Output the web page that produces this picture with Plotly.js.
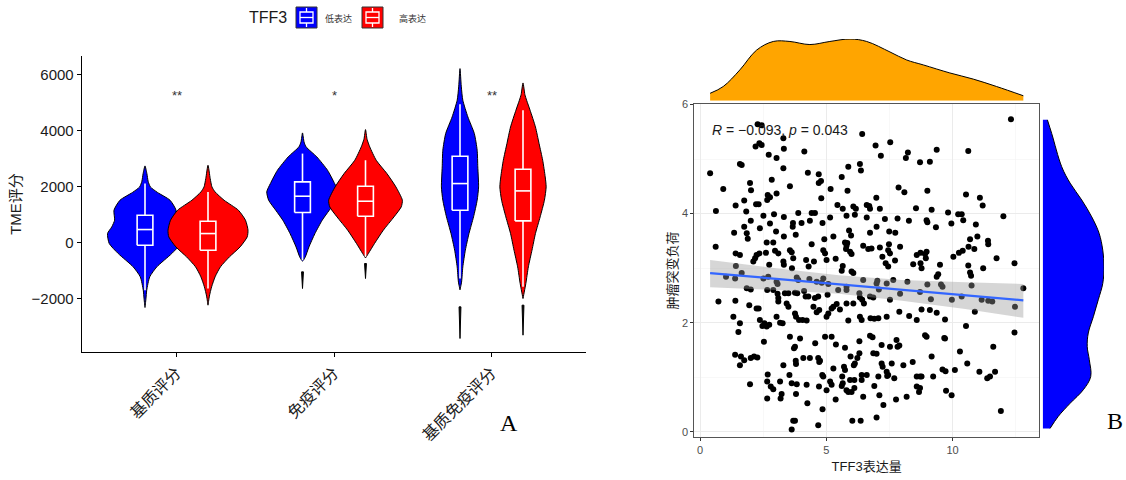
<!DOCTYPE html>
<html>
<head>
<meta charset="utf-8">
<script src="https://cdn.plot.ly/plotly-3.0.1.min.js"></script>
<style>html,body{margin:0;padding:0;background:#fff;}#chart{width:1126px;height:480px;}</style>
</head>
<body>
<div id="chart"></div>
<script>
// ---------------- Panel A data ----------------
const categories = ['基质评分', '免疫评分', '基质免疫评分'];
const groupNames = ['低表达', '高表达'];
const legendTitle = 'TFF3';
const sigLabels = ['**', '*', '**'];
const sigY = 5250;

// box statistics (TME score) per category
const lowQ1 = [-83, 1083, 1167];
const lowMedian = [476, 1667, 2119];
const lowQ3 = [988, 2179, 3095];
const lowLowerFence = [-1690, -619, -1274];
const lowUpperFence = [2119, 3190, 4952];
const highQ1 = [-262, 952, 786];
const highMedian = [333, 1488, 1857];
const highQ3 = [774, 2024, 2631];
const highLowerFence = [-1631, -500, -1571];
const highUpperFence = [1821, 2952, 4738];

// violin density profiles (score level, half-width in category units)
const lowViolinLevels = [
  [2750, 2476, 2200, 2000, 1800, 1524, 1167, 810, 571, 333, -24, -381, -857, -1214, -1690, -2000, -2310],
  [3929, 3600, 3429, 3071, 2595, 2119, 1821, 1524, 1167, 810, 333, -143, -500, -619, -650],
  [6226, 5600, 5095, 4500, 3905, 3310, 2714, 2000, 1524, 929, 333, -262, -857, -1400, -1680]
];
const lowViolinDensity = [
  [0, 0.012, 0.020, 0.034, 0.080, 0.159, 0.197, 0.193, 0.211, 0.238, 0.227, 0.170, 0.075, 0.030, 0.011, 0.006, 0],
  [0, 0.010, 0.023, 0.091, 0.159, 0.204, 0.227, 0.215, 0.170, 0.125, 0.079, 0.041, 0.018, 0.006, 0],
  [0, 0.008, 0.018, 0.050, 0.091, 0.109, 0.113, 0.118, 0.109, 0.086, 0.057, 0.034, 0.018, 0.010, 0]
];
const highViolinLevels = [
  [2774, 2300, 2000, 1821, 1524, 1167, 810, 452, 214, -143, -500, -857, -1214, -1571, -1900, -2226],
  [4048, 3700, 3429, 2952, 2476, 2000, 1524, 1286, 929, 452, -24, -381, -540],
  [5714, 5300, 5095, 4738, 4143, 3548, 2952, 2357, 2000, 1524, 929, 333, -262, -857, -1452, -1988]
];
const highViolinDensity = [
  [0, 0.014, 0.025, 0.045, 0.102, 0.193, 0.238, 0.254, 0.249, 0.204, 0.136, 0.079, 0.045, 0.023, 0.009, 0],
  [0, 0.010, 0.027, 0.068, 0.136, 0.193, 0.234, 0.227, 0.181, 0.113, 0.057, 0.018, 0],
  [0, 0.012, 0.023, 0.045, 0.079, 0.102, 0.125, 0.141, 0.147, 0.136, 0.109, 0.079, 0.057, 0.034, 0.018, 0]
];
// detached thin lower tails of the violins
const lowTailTop = [null, -1036, -2286];
const lowTailBottom = [null, -1631, -3417];
const highTailTop = [null, -738, -2226];
const highTailBottom = [null, -1274, -3298];

// ---------------- Panel B data ----------------
const tff3 = [12.31,2.28,2.44,6.42,7.53,2.35,2.44,2.20,3.30,3.32,2.72,3.03,4.13,6.95,7.16,8.23,8.15,9.37,10.62,8.71,9.10,1.58,1.65,6.33,6.37,5.87,0.40,3.30,5.61,4.27,4.70,4.70,4.79,2.84,1.98,2.02,0.92,3.56,3.03,5.17,5.84,7.86,8.09,9.00,10.53,11.08,11.19,1.75,2.68,2.77,2.66,6.98,4.80,0.63,1.41,2.22,2.32,1.83,6.60,6.70,6.73,5.44,6.07,6.17,5.65,7.12,8.55,9.17,9.82,10.22,10.36,12.01,3.89,4.42,4.55,2.93,5.15,5.80,6.13,6.60,7.32,7.82,8.27,8.97,9.00,9.95,10.42,10.92,2.51,3.32,3.68,3.67,4.02,4.35,4.85,2.01,2.77,1.75,1.35,1.85,2.37,5.90,5.98,5.83,6.73,6.99,7.49,7.73,9.34,5.28,3.79,3.01,3.32,4.92,2.64,2.90,1.89,10.69,10.98,11.40,11.41,0.62,1.41,1.58,2.24,2.35,2.61,2.97,3.10,3.56,3.63,4.42,4.88,4.95,5.74,5.80,5.78,5.94,6.00,6.46,6.66,6.79,7.12,7.48,7.45,7.52,7.92,8.73,8.91,8.58,8.97,10.25,10.40,10.63,10.86,11.74,12.45,10.03,1.42,3.30,3.32,3.69,3.64,4.20,4.30,4.51,5.01,5.37,5.65,5.61,6.00,6.07,7.22,7.35,7.45,7.72,8.44,8.73,8.77,8.94,9.50,10.62,10.69,10.73,11.21,2.18,2.11,2.74,1.03,1.65,1.39,2.70,2.51,3.03,3.07,3.83,3.89,4.33,4.62,4.88,4.82,5.08,5.80,6.46,7.02,6.99,7.65,8.21,9.00,9.14,9.54,9.60,9.37,9.43,9.97,10.75,11.15,11.41,11.57,12.47,12.80,0.73,1.40,1.85,2.01,2.66,2.90,3.07,3.10,3.10,3.36,3.50,3.76,3.85,4.12,4.29,4.18,4.55,4.68,5.05,5.47,5.80,6.31,6.33,6.42,6.49,6.73,6.86,7.08,7.39,7.92,8.71,10.36,1.32,1.58,1.52,1.95,2.24,2.32,2.37,2.47,2.55,2.64,2.74,3.03,3.17,3.27,3.43,3.50,3.76,3.80,3.92,4.06,4.22,4.49,4.62,4.72,5.01,5.08,5.21,5.28,5.41,5.54,5.80,5.87,6.07,6.33,6.40,6.75,6.90,7.06,7.39,7.52,7.89,8.28,8.58,8.77,9.10,9.37,9.70,10.53,10.88,1.39,1.62,1.75,1.58,2.01,2.14,2.27,1.98,2.53,2.68,2.66,2.80,2.90,2.66,3.17,3.23,3.19,3.30,3.56,3.54,3.63,3.79,3.80,3.83,3.80,3.96,3.76,3.72,4.09,4.35,4.22,4.25,4.56,4.68,4.72,4.75,4.71,4.85,4.95,4.84,4.88,5.01,5.15,5.21,5.21,5.28,5.38,5.37,5.63,5.65,5.61,5.70,5.74,5.74,5.80,5.87,5.94,5.96,6.00,6.09,6.13,6.11,6.11,6.23,6.31,6.31,6.40,6.40,6.46,6.60,6.73,6.83,6.86,6.90,6.99,7.06,7.10,7.19,7.19,7.23,7.26,7.39,7.41,7.45,7.52,7.59,7.69,7.78,7.82,7.89,7.76,8.05,8.18,8.42,8.58,8.71,8.77,8.58,8.71,8.67,8.91,8.97,9.17,9.23,9.67,9.70,9.60,9.72,9.74,9.96,10.09,10.29,10.58,11.06,11.37,11.48,11.68,11.61,12.45,11.91,3.63,3.69,3.76,4.68,6.03,6.36,6.99];
const tmb = [5.73,5.64,5.62,5.46,5.31,5.29,5.26,5.23,5.38,5.19,5.08,5.02,5.14,5.25,5.06,5.12,5.02,5.17,5.15,4.94,4.95,4.91,4.89,4.91,4.79,4.86,4.74,4.83,4.67,4.75,4.72,4.56,4.60,4.62,4.56,4.43,4.45,4.50,4.37,4.45,4.42,4.48,4.39,4.42,4.35,4.29,4.15,4.24,4.34,4.30,4.25,4.29,4.28,4.05,4.15,4.17,4.17,4.04,4.16,4.14,4.09,4.16,4.13,4.09,4.09,4.09,4.10,4.07,4.02,3.99,3.99,3.95,4.01,4.01,4.01,3.99,3.93,3.96,3.98,3.93,3.90,3.91,3.87,3.88,3.84,3.82,3.88,3.80,3.96,3.94,3.83,3.76,3.83,3.87,3.83,3.87,3.82,3.76,3.65,3.64,3.73,3.69,3.60,3.46,3.65,3.76,3.67,3.65,3.75,3.58,3.61,3.67,3.58,3.53,3.47,3.47,3.54,3.53,3.58,3.50,3.44,3.39,3.27,3.24,3.24,3.27,3.28,3.32,3.27,3.33,3.29,3.44,3.33,3.27,3.47,3.41,3.35,3.30,3.26,3.41,3.35,3.36,3.38,3.44,3.33,3.27,3.39,3.28,3.26,3.24,3.30,3.28,3.32,3.39,3.35,3.18,3.09,3.21,3.04,3.12,3.06,3.18,3.00,3.15,3.03,3.12,3.15,3.17,3.04,2.95,2.94,2.91,3.21,3.09,3.03,3.14,3.07,3.09,3.00,3.18,3.06,3.05,2.92,2.86,3.00,3.18,3.12,3.06,2.84,2.91,2.81,2.84,2.81,2.75,2.71,2.83,2.78,2.80,2.75,2.81,2.73,2.71,2.66,2.78,2.77,2.72,2.78,2.75,2.70,2.43,2.70,2.66,2.84,2.89,2.42,2.68,2.42,2.40,2.39,2.29,2.63,2.39,2.40,2.63,2.61,2.60,2.60,2.53,2.45,2.39,2.54,2.54,2.55,2.54,2.58,2.48,2.48,2.45,2.48,2.51,2.60,2.60,2.54,2.46,2.42,2.35,2.48,2.46,2.61,2.72,2.53,2.56,2.48,2.11,1.99,1.83,2.32,2.26,2.26,2.05,1.94,1.99,1.93,1.96,2.11,2.00,1.99,2.35,2.29,2.17,2.11,2.05,2.05,2.04,2.29,2.19,2.23,2.11,2.17,2.26,2.29,2.34,2.24,2.35,2.04,2.35,2.11,2.05,2.08,2.07,2.08,2.11,2.42,2.20,2.12,2.05,2.24,2.23,2.18,2.06,1.94,2.20,1.41,1.38,1.31,1.22,1.35,1.38,1.36,0.87,1.65,1.05,0.92,0.83,0.78,0.61,0.92,0.69,0.61,1.22,1.74,1.04,0.89,1.30,1.24,0.87,0.69,1.71,1.56,1.53,1.35,1.35,0.86,0.52,1.62,1.35,1.28,1.30,0.83,0.41,1.74,1.04,1.01,0.76,0.92,0.86,1.74,1.16,1.60,0.59,1.01,0.89,0.84,1.19,1.13,1.54,0.76,0.73,0.95,1.38,0.73,1.22,1.25,0.95,0.80,1.35,1.44,1.66,1.04,0.95,0.64,1.04,1.76,1.73,1.44,0.84,1.43,1.01,0.67,1.59,1.25,1.19,0.49,1.10,1.02,1.04,1.56,1.25,0.98,1.68,1.56,1.58,0.59,1.22,0.64,1.28,1.01,1.01,1.01,0.83,0.80,0.73,1.77,1.74,1.38,1.01,1.72,1.71,1.14,1.11,0.75,0.67,1.13,1.47,1.25,1.10,0.98,1.01,1.10,1.56,1.82,0.38,0.04,0.20,0.20,0.12,0.20,0.20,0.26];
const corrText = '<i>R</i> = −0.093, <i>p</i> = 0.043';

// linear fit and its confidence band
const fitX = [0.4, 12.8];
const fitY = [2.91, 2.41];
const bandX = [0.4, 3, 5.5, 8, 10.5, 12.8];
const bandUpper = [3.15, 3.00, 2.87, 2.78, 2.74, 2.71];
const bandLower = [2.65, 2.60, 2.53, 2.40, 2.25, 2.09];

// marginal densities
const topDensX = [0.40, 0.92, 1.58, 2.24, 2.90, 3.56, 4.35, 5.14, 5.94, 6.60, 7.52, 8.18, 8.84, 9.89, 10.82, 11.74, 12.80];
const topDens = [0.012, 0.023, 0.050, 0.082, 0.096, 0.096, 0.091, 0.096, 0.100, 0.096, 0.079, 0.066, 0.058, 0.045, 0.035, 0.023, 0.008];
const rightDensY = [5.72, 5.47, 4.86, 4.56, 4.25, 3.94, 3.64, 3.33, 3.03, 2.72, 2.42, 2.11, 1.81, 1.56, 1.32, 1.01, 0.77, 0.52, 0.28, 0.06];
const rightDens = [0.023, 0.044, 0.093, 0.134, 0.191, 0.240, 0.276, 0.294, 0.300, 0.294, 0.272, 0.248, 0.223, 0.218, 0.228, 0.235, 0.199, 0.134, 0.076, 0.036];

// ---------------- build ----------------
const W = 1126, H = 480;
const px = x => x / W;
const py = y => 1 - y / H;
const FONT = 'Liberation Sans, Arial, Noto Sans CJK SC, sans-serif';
const BLUE = '#0000FF', RED = '#FF0000';
const DODGE = 0.2;
const BOXHALF = 0.05;

const traces = [];

function violin(center, lv, hw, color) {
  const xs = [], ys = [];
  for (let i = 0; i < lv.length; i++) { xs.push(center + hw[i]); ys.push(lv[i]); }
  for (let i = lv.length - 1; i >= 0; i--) { xs.push(center - hw[i]); ys.push(lv[i]); }
  return {type: 'scatter', mode: 'lines', x: xs, y: ys, xaxis: 'x', yaxis: 'y',
    fill: 'toself', fillcolor: color, line: {color: '#000', width: 1, shape: 'spline', smoothing: 0.6},
    hoverinfo: 'skip', showlegend: false};
}
function tail(center, top, bottom) {
  return {type: 'scatter', mode: 'lines', x: [center + 0.006, center, center - 0.006, center + 0.006],
    y: [top, bottom, top, top], xaxis: 'x', yaxis: 'y', fill: 'toself', fillcolor: '#000',
    line: {color: '#000', width: 1}, hoverinfo: 'skip', showlegend: false};
}
for (let c = 0; c < categories.length; c++) {
  const cx = c + 1;
  traces.push(violin(cx - DODGE, lowViolinLevels[c], lowViolinDensity[c], BLUE));
  if (lowTailTop[c] !== null) traces.push(tail(cx - DODGE, lowTailTop[c], lowTailBottom[c]));
  traces.push(violin(cx + DODGE, highViolinLevels[c], highViolinDensity[c], RED));
  if (highTailTop[c] !== null) traces.push(tail(cx + DODGE, highTailTop[c], highTailBottom[c]));
}
// box plots drawn as white outlines (q1-q3 box, median, whiskers)
function boxOutline(offset, q1, med, q3, lo, hi) {
  const xs = [], ys = [];
  for (let i = 0; i < q1.length; i++) {
    const c = i + 1 + offset, l = c - BOXHALF, r = c + BOXHALF;
    xs.push(l, r, r, l, l, null, l, r, null, c, c, null, c, c, null);
    ys.push(q1[i], q1[i], q3[i], q3[i], q1[i], null, med[i], med[i], null, q3[i], hi[i], null, q1[i], lo[i], null);
  }
  return {type: 'scatter', mode: 'lines', x: xs, y: ys, xaxis: 'x', yaxis: 'y',
    line: {color: '#FFFFFF', width: 1.6}, connectgaps: false, hoverinfo: 'skip', showlegend: false};
}
traces.push(boxOutline(-DODGE, lowQ1, lowMedian, lowQ3, lowLowerFence, lowUpperFence));
traces.push(boxOutline(DODGE, highQ1, highMedian, highQ3, highLowerFence, highUpperFence));

// Panel B
traces.push({type: 'scatter', mode: 'markers', x: tff3, y: tmb, xaxis: 'x2', yaxis: 'y2',
  marker: {color: '#000', size: 6}, hoverinfo: 'skip', showlegend: false});
traces.push({type: 'scatter', mode: 'lines', x: bandX.concat(bandX.slice().reverse()),
  y: bandUpper.concat(bandLower.slice().reverse()), xaxis: 'x2', yaxis: 'y2',
  fill: 'toself', fillcolor: 'rgba(153,153,153,0.4)', line: {width: 0},
  hoverinfo: 'skip', showlegend: false});
traces.push({type: 'scatter', mode: 'lines', x: fitX, y: fitY, xaxis: 'x2', yaxis: 'y2',
  line: {color: '#3366FF', width: 2.2}, hoverinfo: 'skip', showlegend: false});
traces.push({type: 'scatter', mode: 'lines', x: topDensX, y: topDens, xaxis: 'x3', yaxis: 'y3',
  fill: 'tozeroy', fillcolor: '#FFA500', line: {color: '#000', width: 1, shape: 'spline'},
  hoverinfo: 'skip', showlegend: false});
traces.push({type: 'scatter', mode: 'lines', x: rightDens, y: rightDensY, xaxis: 'x4', yaxis: 'y4',
  fill: 'tozerox', fillcolor: BLUE, line: {color: '#000', width: 1, shape: 'spline'},
  hoverinfo: 'skip', showlegend: false});

const xB = [px(694.3), px(1039)];
const yB = [py(436.7), py(104.3)];
const xRange = [-0.226, 13.42];
const yRange = [-0.092, 6.005];

const layout = {
  width: W, height: H,
  margin: {l: 0, r: 0, t: 0, b: 0, pad: 0},
  paper_bgcolor: '#fff', plot_bgcolor: 'rgba(0,0,0,0)',
  font: {family: FONT, color: '#1a1a1a'},
  showlegend: false,
  xaxis: {domain: [px(82), px(586)], range: [0.4, 3.6], anchor: 'y', type: 'linear',
    tickmode: 'array', tickvals: [1, 2, 3], ticktext: categories, tickangle: -45,
    tickfont: {size: 16, color: '#1a1a1a'}, ticks: 'outside', ticklen: 4, tickcolor: '#000', tickwidth: 1,
    showline: true, linecolor: '#000', linewidth: 1.3, showgrid: false, zeroline: false},
  yaxis: {domain: [py(352), py(56)], range: [-3899, 6677], anchor: 'x', type: 'linear',
    tickmode: 'array', tickvals: [-2000, 0, 2000, 4000, 6000], ticktext: ['−2000', '0', '2000', '4000', '6000'],
    tickfont: {size: 15, color: '#1a1a1a'}, ticks: 'outside', ticklen: 4, tickcolor: '#000', tickwidth: 1,
    showline: true, linecolor: '#000', linewidth: 1.3, showgrid: false, zeroline: false,
    title: {text: 'TME评分', font: {size: 15, color: '#1a1a1a'}, standoff: 6}},
  xaxis2: {domain: xB, range: xRange, anchor: 'y2',
    tickmode: 'array', tickvals: [0, 5, 10], ticks: 'outside', ticklen: 3, tickcolor: '#333',
    tickfont: {size: 11, color: '#4D4D4D'},
    showline: true, mirror: true, linecolor: '#555', linewidth: 1,
    showgrid: true, gridcolor: '#EBEBEB', gridwidth: 1, zeroline: false,
    minor: {tickvals: [2.5, 7.5, 12.5], showgrid: true, gridcolor: '#F3F3F3', gridwidth: 0.6, ticks: ''},
    title: {text: 'TFF3表达量', font: {size: 13, color: '#1a1a1a'}, standoff: 6}},
  yaxis2: {domain: yB, range: yRange, anchor: 'x2',
    tickmode: 'array', tickvals: [0, 2, 4, 6], ticks: 'outside', ticklen: 3, tickcolor: '#333',
    tickfont: {size: 11, color: '#4D4D4D'},
    showline: true, mirror: true, linecolor: '#555', linewidth: 1,
    showgrid: true, gridcolor: '#EBEBEB', gridwidth: 1, zeroline: false,
    minor: {tickvals: [1, 3, 5], showgrid: true, gridcolor: '#F3F3F3', gridwidth: 0.6, ticks: ''},
    title: {text: '肿瘤突变负荷', font: {size: 13, color: '#1a1a1a'}, standoff: 1}},
  xaxis3: {domain: xB, range: xRange, anchor: 'y3', visible: false},
  yaxis3: {domain: [py(100.7), py(39)], range: [0, 0.1], anchor: 'x3', visible: false},
  xaxis4: {domain: [px(1042.7), px(1104)], range: [0, 0.3], anchor: 'y4', visible: false},
  yaxis4: {domain: yB, range: yRange, anchor: 'x4', visible: false},
  shapes: [],
  annotations: []
};

// significance labels
categories.forEach((c, i) => {
  layout.annotations.push({xref: 'x', yref: 'y', x: i + 1, y: sigY, text: sigLabels[i], showarrow: false,
    font: {size: 13, color: '#333'}, xanchor: 'center', yanchor: 'middle'});
});
// correlation label
layout.annotations.push({xref: 'x2', yref: 'y2', x: 0.4, y: 5.54, text: corrText, showarrow: false,
  xanchor: 'left', yanchor: 'middle', font: {size: 14, color: '#1a1a1a'}});
// panel letters
layout.annotations.push({xref: 'paper', yref: 'paper', x: px(509), y: py(423), text: 'A', showarrow: false,
  xanchor: 'center', yanchor: 'middle', font: {family: 'Liberation Serif, serif', size: 24, color: '#000'}});
layout.annotations.push({xref: 'paper', yref: 'paper', x: px(1115), y: py(421), text: 'B', showarrow: false,
  xanchor: 'center', yanchor: 'middle', font: {family: 'Liberation Serif, serif', size: 24, color: '#000'}});

// legend (drawn manually, ggplot style keys)
layout.annotations.push({xref: 'paper', yref: 'paper', x: px(247), y: py(18), text: legendTitle, showarrow: false,
  xanchor: 'left', yanchor: 'middle', font: {size: 16, color: '#1a1a1a'}});
const keyLeft = [296, 362];
const keyColors = [BLUE, RED];
const labelLeft = [323, 397];
for (let k = 0; k < 2; k++) {
  const x0 = keyLeft[k], x1 = x0 + 21, y0 = 7, y1 = 28, cx = (x0 + x1) / 2;
  layout.shapes.push({type: 'rect', xref: 'paper', yref: 'paper', x0: px(x0), x1: px(x1), y0: py(y1), y1: py(y0),
    fillcolor: keyColors[k], line: {color: '#333', width: 1}});
  layout.shapes.push({type: 'rect', xref: 'paper', yref: 'paper', x0: px(x0 + 4), x1: px(x1 - 4), y0: py(23), y1: py(12),
    fillcolor: 'rgba(0,0,0,0)', line: {color: '#fff', width: 1.3}});
  layout.shapes.push({type: 'line', xref: 'paper', yref: 'paper', x0: px(x0 + 4), x1: px(x1 - 4), y0: py(17.5), y1: py(17.5),
    line: {color: '#fff', width: 1.3}});
  layout.shapes.push({type: 'line', xref: 'paper', yref: 'paper', x0: px(cx), x1: px(cx), y0: py(12), y1: py(8),
    line: {color: '#fff', width: 1.3}});
  layout.shapes.push({type: 'line', xref: 'paper', yref: 'paper', x0: px(cx), x1: px(cx), y0: py(27), y1: py(23),
    line: {color: '#fff', width: 1.3}});
  layout.annotations.push({xref: 'paper', yref: 'paper', x: px(labelLeft[k]), y: py(19), text: groupNames[k],
    showarrow: false, xanchor: 'left', yanchor: 'middle', font: {size: 9, color: '#333'}});
}

Plotly.newPlot('chart', traces, layout, {displayModeBar: false, staticPlot: true});
</script>
</body>
</html>
